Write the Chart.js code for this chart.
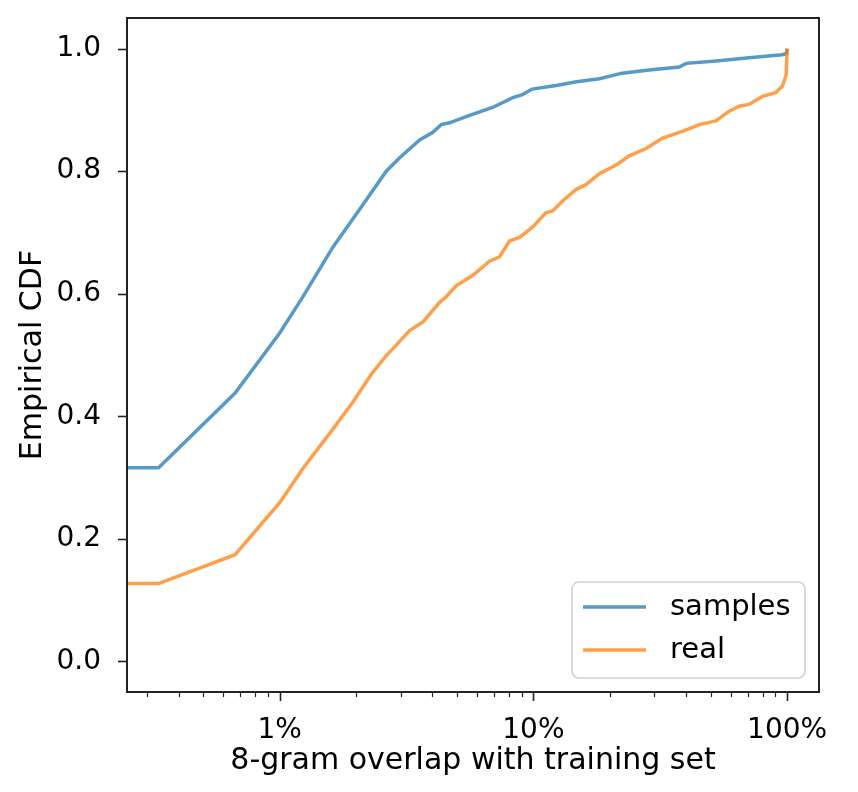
<!DOCTYPE html>
<html>
<head>
<meta charset="utf-8">
<script src="https://cdn.jsdelivr.net/npm/chart.js@4.4.1/dist/chart.umd.min.js"></script>
<style>
    html, body { margin: 0; padding: 0; background: #fff; }
    #chart { display: block; }
</style>
</head>
<body>
<canvas id="chart" width="858" height="792"></canvas>
<script>
// Data (x in percent of 8-grams overlapping, y = cumulative fraction)
const samplesX = [0.25, 0.333, 0.667, 1.0, 1.23, 1.62, 2.06, 2.63, 2.97, 3.56, 4.0, 4.33, 4.67, 5.6, 6.9, 8.3, 9.05, 9.9, 12.3, 14.8, 18.2, 22.4, 28.6, 37.6, 40, 52.5, 70.8, 95.5, 99.5, 100];
const samplesY = [0.316, 0.316, 0.438, 0.536, 0.594, 0.676, 0.737, 0.800, 0.822, 0.851, 0.863, 0.876, 0.879, 0.891, 0.904, 0.920, 0.925, 0.934, 0.940, 0.946, 0.951, 0.960, 0.965, 0.970, 0.976, 0.980, 0.985, 0.990, 0.992, 1.0];

const realX = [0.25, 0.333, 0.667, 1.0, 1.23, 1.62, 1.94, 2.30, 2.63, 2.79, 3.25, 3.67, 4.27, 4.53, 4.96, 5.77, 6.71, 7.35, 8.05, 8.81, 9.94, 11.2, 11.9, 13.0, 14.7, 16.1, 18.2, 21.2, 23.9, 27.8, 32.3, 38.7, 45.1, 52.4, 59.1, 64.7, 70.8, 80.0, 90.2, 95.9, 99.3, 100];
const realY = [0.127, 0.127, 0.174, 0.259, 0.314, 0.379, 0.423, 0.469, 0.499, 0.510, 0.540, 0.554, 0.586, 0.595, 0.613, 0.630, 0.653, 0.660, 0.686, 0.692, 0.709, 0.732, 0.735, 0.751, 0.770, 0.778, 0.796, 0.810, 0.825, 0.837, 0.854, 0.865, 0.876, 0.882, 0.898, 0.906, 0.909, 0.922, 0.928, 0.939, 0.958, 1.0];

const seriesNames = ['samples', 'real'];
const seriesColors = ['rgba(31, 119, 180, 0.75)', 'rgba(255, 127, 14, 0.75)'];

const xTickValues = [1, 10, 100];
const xTickLabels = ['1%', '10%', '100%'];
const xMinorTicks = [0.3, 0.4, 0.5, 0.6, 0.7, 0.8, 0.9, 2, 3, 4, 5, 6, 7, 8, 9, 20, 30, 40, 50, 60, 70, 80, 90];
const yTickValues = [0, 0.2, 0.4, 0.6, 0.8, 1.0];

const FAMILY = "'DejaVu Sans', sans-serif";
const TICK_SIZE = 28;
const TITLE_SIZE = 30;
const LEGEND_SIZE = 29;

function toPoints(xs, ys) {
    return xs.map((x, i) => ({ x: x, y: ys[i] }));
}

// Spines, tick marks and legend, drawn in matplotlib style
const frameAndLegend = {
    id: 'frameAndLegend',
    afterDraw(chart) {
        const ctx = chart.ctx;
        const area = chart.chartArea;
        const xs = chart.scales.x;
        const ys = chart.scales.y;
        ctx.save();
        ctx.strokeStyle = '#222';
        ctx.lineCap = 'butt';

        // major / minor ticks on x
        ctx.lineWidth = 1.6;
        xTickValues.forEach(v => {
            const px = Math.round(xs.getPixelForValue(v)) + 0.5;
            ctx.beginPath();
            ctx.moveTo(px, area.bottom);
            ctx.lineTo(px, area.bottom + 9);
            ctx.stroke();
        });
        ctx.lineWidth = 1.2;
        xMinorTicks.forEach(v => {
            const px = Math.round(xs.getPixelForValue(v)) + 0.5;
            ctx.beginPath();
            ctx.moveTo(px, area.bottom);
            ctx.lineTo(px, area.bottom + 5);
            ctx.stroke();
        });
        // y ticks
        ctx.lineWidth = 1.6;
        yTickValues.forEach(v => {
            const py = Math.round(ys.getPixelForValue(v)) + 0.5;
            ctx.beginPath();
            ctx.moveTo(area.left, py);
            ctx.lineTo(area.left - 9, py);
            ctx.stroke();
        });

        // spines
        ctx.lineWidth = 2;
        ctx.strokeRect(area.left, area.top, area.right - area.left, area.bottom - area.top);

        // legend box (lower right)
        const w = 233, h = 96;
        const bx = area.right - 14 - w;
        const by = area.bottom - 14 - h;
        ctx.beginPath();
        ctx.roundRect(bx, by, w, h, 7);
        ctx.fillStyle = 'rgba(255, 255, 255, 0.8)';
        ctx.fill();
        ctx.lineWidth = 1.6;
        ctx.strokeStyle = '#d0d0d0';
        ctx.stroke();

        ctx.font = LEGEND_SIZE + 'px ' + FAMILY;
        ctx.textBaseline = 'middle';
        ctx.textAlign = 'left';
        seriesNames.forEach((name, i) => {
            const ly = by + 25 + i * 43;
            ctx.strokeStyle = seriesColors[i];
            ctx.lineWidth = 3.5;
            ctx.beginPath();
            ctx.moveTo(bx + 11, ly);
            ctx.lineTo(bx + 74, ly);
            ctx.stroke();
            ctx.fillStyle = '#000';
            ctx.fillText(name, bx + 98, ly);
        });
        ctx.restore();
    }
};

Chart.defaults.color = '#000';
Chart.defaults.font.family = FAMILY;
Chart.defaults.font.size = TICK_SIZE;

new Chart(document.getElementById('chart').getContext('2d'), {
    type: 'line',
    data: {
        datasets: [
            {
                label: seriesNames[0],
                data: toPoints(samplesX, samplesY),
                borderColor: seriesColors[0],
                borderWidth: 3.5,
                pointRadius: 0,
                tension: 0,
                order: 1
            },
            {
                label: seriesNames[1],
                data: toPoints(realX, realY),
                borderColor: seriesColors[1],
                borderWidth: 3.5,
                pointRadius: 0,
                tension: 0,
                order: 0
            }
        ]
    },
    options: {
        responsive: false,
        animation: false,
        devicePixelRatio: 1,
        layout: { padding: { left: 0, top: 18, right: 39, bottom: 0 } },
        plugins: {
            legend: { display: false },
            tooltip: { enabled: false }
        },
        scales: {
            x: {
                type: 'logarithmic',
                min: 0.25,
                max: 133.6,
                grid: { display: false },
                border: { display: false },
                afterBuildTicks: scale => {
                    scale.ticks = xTickValues.map(v => ({ value: v }));
                },
                afterFit: scale => {
                    scale.height = 100;
                    scale.paddingLeft = 0;
                    scale.paddingRight = 0;
                },
                ticks: {
                    padding: 14,
                    maxRotation: 0,
                    autoSkip: false,
                    callback: v => xTickLabels[xTickValues.indexOf(v)]
                },
                title: {
                    display: true,
                    text: '8-gram overlap with training set',
                    font: { size: TITLE_SIZE },
                    padding: { top: 0, bottom: 13 }
                }
            },
            y: {
                type: 'linear',
                min: -0.05,
                max: 1.05,
                grid: { display: false },
                border: { display: false },
                afterBuildTicks: scale => {
                    scale.ticks = yTickValues.map(v => ({ value: v }));
                },
                afterFit: scale => {
                    scale.width = 127;
                    scale.paddingTop = 0;
                    scale.paddingBottom = 0;
                },
                ticks: {
                    padding: 18,
                    callback: v => v.toFixed(1)
                },
                title: {
                    display: true,
                    text: 'Empirical CDF',
                    font: { size: TITLE_SIZE },
                    padding: { top: 15, bottom: 0 }
                }
            }
        }
    },
    plugins: [frameAndLegend]
});
</script>
</body>
</html>
